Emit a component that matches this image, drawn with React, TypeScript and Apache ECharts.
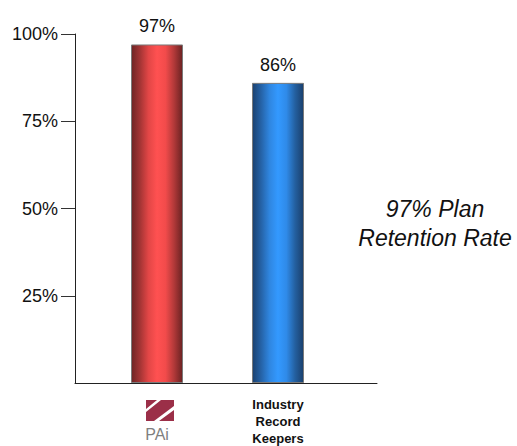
import React, { useEffect, useRef } from 'react';
import * as echarts from 'echarts';

const categories = ['PAi', 'Industry Record Keepers'];
const retention = [97, 86];
const yTickValues = [25, 50, 75, 100];
const sideNote = ['97% Plan', 'Retention Rate'];

const FONT = '"Liberation Sans", Arial, Helvetica, sans-serif';

const redStops = ['#6e2424', '#a33434', '#e24646', '#ff5151', '#f24b4b', '#b23939', '#6a2222'];
const blueStops = ['#1b4170', '#2562a6', '#2f86e0', '#3399ff', '#2f8ae8', '#2460a0', '#1a3f6c'];

function grad(stops: string[]) {
  return new echarts.graphic.LinearGradient(
    0, 0, 1, 0,
    stops.map((c, i) => ({ offset: i / (stops.length - 1), color: c }))
  );
}

echarts.graphic.registerShape(
  'paiLogo',
  echarts.graphic.extendPath('M0 0H11L0 9Z M15 0H28V6L8 21H0V12Z M28 10V21H13Z', {})
);

export default function App() {
  const ref = useRef<HTMLDivElement>(null);
  useEffect(() => {
    if (!ref.current) return;
    const chart = echarts.init(ref.current, undefined, { renderer: 'svg' });
    const gridPos = { top: 34, bottom: 63 };
    const barColors = [grad(redStops), grad(blueStops)];
    chart.setOption({
      animation: false,
      backgroundColor: '#ffffff',
      textStyle: { fontFamily: FONT },
      grid: [
        { left: 75, right: 140, ...gridPos },
        { left: 96.5, right: 178.5, ...gridPos },
      ],
      xAxis: [
        {
          gridIndex: 0,
          type: 'category',
          data: [''],
          axisLine: { show: true, lineStyle: { color: '#222', width: 1 } },
          axisTick: { show: false },
          axisLabel: { show: false },
        },
        {
          gridIndex: 1,
          type: 'category',
          data: categories,
          axisLine: { show: false },
          axisTick: { show: false },
          axisLabel: {
            margin: 13,
            interval: 0,
            formatter: (v: string, i: number) =>
              i === 0
                ? '{sp| }\n{pai|' + v + '}'
                : v.split(' ').map((w) => '{ind|' + w + '}').join('\n'),
            rich: {
              sp: { lineHeight: 30, fontSize: 2 },
              pai: { fontSize: 16, color: '#7f7f7f', lineHeight: 17, fontFamily: FONT },
              ind: { fontSize: 13, fontWeight: 'bold', color: '#111', lineHeight: 17, fontFamily: FONT },
            },
          },
        },
      ],
      yAxis: [
        {
          gridIndex: 0,
          type: 'value',
          min: 0,
          max: 100,
          interval: 25,
          splitLine: { show: false },
          axisLine: { show: true, lineStyle: { color: '#222', width: 1 } },
          axisTick: {
            show: true,
            length: 14,
            customValues: yTickValues,
            lineStyle: { color: '#333', width: 1 },
          },
          axisLabel: {
            margin: 17,
            fontSize: 18,
            color: '#111',
            fontFamily: FONT,
            customValues: yTickValues,
            formatter: '{value}%',
          },
        },
        {
          gridIndex: 1,
          type: 'value',
          min: 0,
          max: 100,
          show: false,
          splitLine: { show: false },
        },
      ],
      series: [
        {
          type: 'bar',
          xAxisIndex: 1,
          yAxisIndex: 1,
          barWidth: 52,
          data: retention.map((v, i) => ({
            value: v,
            itemStyle: { color: barColors[i], borderColor: '#7a7a7a', borderWidth: 1 },
          })),
          label: {
            show: true,
            position: 'top',
            distance: 9,
            formatter: '{c}%',
            fontSize: 18,
            color: '#111',
            fontFamily: FONT,
          },
        },
      ],
      graphic: [
        {
          type: 'paiLogo',
          x: 146,
          y: 400,
          style: { fill: '#9b2f48' },
        },
        {
          type: 'text',
          x: 435,
          y: 223,
          style: {
            text: sideNote.join('\n'),
            fontSize: 23,
            fontStyle: 'italic',
            fontFamily: FONT,
            lineHeight: 29,
            fill: '#111',
            align: 'center',
            verticalAlign: 'middle',
          },
        },
      ],
    });
    return () => chart.dispose();
  }, []);
  return (
    <div
      ref={ref}
      style={{ position: 'absolute', left: 0, top: 0, width: 517, height: 446 }}
    />
  );
}
